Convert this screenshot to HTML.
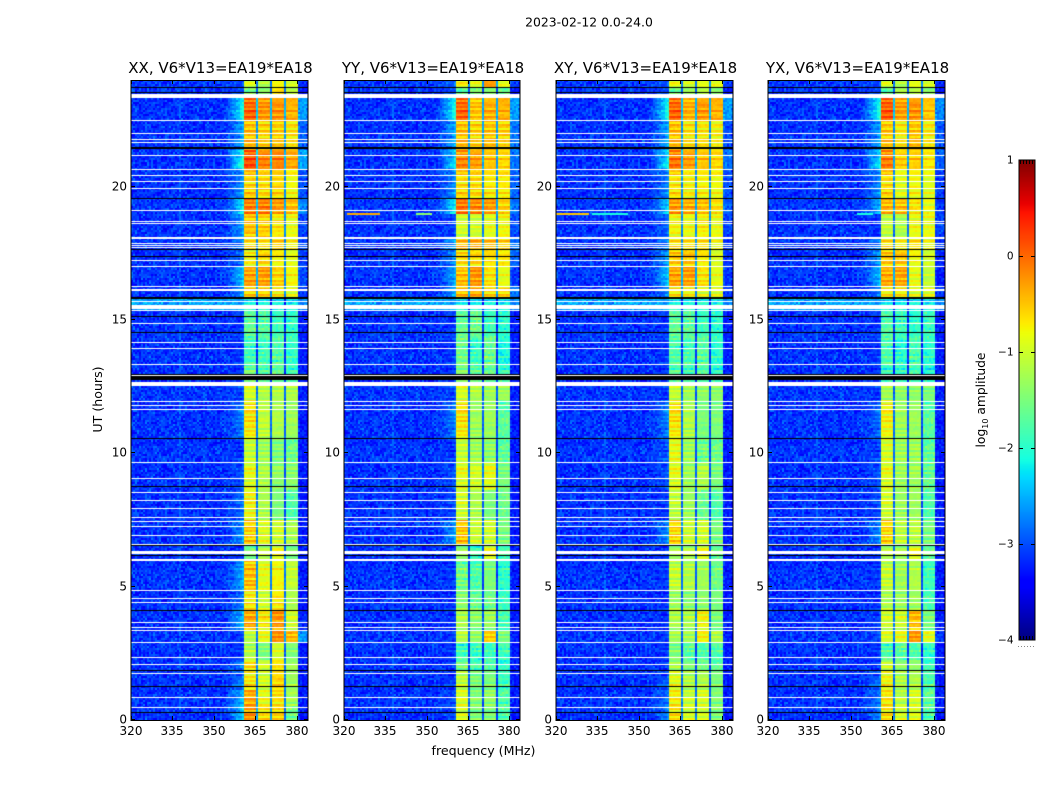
<!DOCTYPE html>
<html lang="en">
<head>
<meta charset="utf-8">
<title>2023-02-12 spectrogram</title>
<style>
html,body{margin:0;padding:0;background:#fff;}
#figure{position:relative;width:1050px;height:800px;overflow:hidden;background:#fff;font-family:"DejaVu Sans","Liberation Sans",sans-serif;}
canvas{position:absolute;display:block;}
svg{position:absolute;left:0;top:0;}
text{font-family:"DejaVu Sans","Liberation Sans",sans-serif;fill:#000;}
</style>
</head>
<body>
<div id="figure">
<canvas id="heat-xx"></canvas>
<canvas id="heat-yy"></canvas>
<canvas id="heat-xy"></canvas>
<canvas id="heat-yx"></canvas>
<canvas id="colorbar"></canvas>
<svg id="overlay" width="1050" height="800">
<text x="589" y="26.5" font-size="12.4" text-anchor="middle">2023-02-12 0.0-24.0</text>
<text x="483.5" y="755" font-size="12.6" text-anchor="middle">frequency (MHz)</text>
<text transform="translate(102,399.5) rotate(-90)" font-size="12.6" text-anchor="middle">UT (hours)</text>
<text transform="translate(985,400) rotate(-90)" font-size="12.3" text-anchor="middle">log<tspan font-size="8" dy="3">10</tspan><tspan dy="-3"> amplitude</tspan></text>
</svg>
</div>
<script>
// ---- chart data ----
const panelTitles = ["XX, V6*V13=EA19*EA18", "YY, V6*V13=EA19*EA18", "XY, V6*V13=EA19*EA18", "YX, V6*V13=EA19*EA18"];
const freqTickLabels = [320, 335, 350, 365, 380];
const hourTickLabels = [0, 5, 10, 15, 20];
const colorbarTickLabels = [1, 0, -1, -2, -3, -4];

// time blocks (UT hours) and log10 amplitude of the four spectral windows in each block
const segmentEdgesHours = [0,0.49,1.12,1.87,2.25,2.92,3.37,4.12,4.87,6.0,6.52,7.5,8.62,9.67,10.57,12.0,12.52,13.31,14.43,15.37,15.82,16.24,17.02,17.62,18.11,18.94,19.57,20.62,21.41,22.5,23.36,23.7,24];
const ampXX = [[-.3,-.65,-.6,-1.6],[-.4,-.9,-.7,-1.3],[-.7,-1,-.6,-1.3],[-.7,-1,-.7,-1.3],[-1.2,-1.5,-1,-1.5],[-1.2,-.9,-.25,-.45],[-.35,-.7,-.25,-1],[-.7,-1,-.7,-1.2],[-.5,-.9,-.8,-1.1],[-1.6,-1.2,-.9,-1.5],[-.55,-.9,-1,-1.2],[-.8,-1.2,-1.5,-1.8],[-.9,-1.2,-1.4,-1.4],[-1.1,-1.3,-1.5,-1.6],[-.7,-1.1,-1.2,-1.3],[-1,-1.2,-1.2,-1.2],[-1.6,-1.8,-1.7,-1.9],[-1.9,-1.85,-1.75,-1.95],[-1.7,-1.75,-1.9,-1.95],[-2.2,-2.2,-2.3,-2.3],[-.6,-.6,-.7,-.9],[-.35,-.3,-.6,-.8],[-.75,-.6,-.75,-.9],[-.7,-.7,-.6,-.8],[-.5,-.55,-.7,-.85],[-.15,-.15,-.3,-.5],[-.55,-.6,-.6,-.8],[.1,-.15,-.15,-.35],[-.5,-.6,-.55,-.7],[0,-.25,-.25,-.4],[-1.6,-1.5,-.7,-1.2],[-1,-1.2,-.8,-1]];
const ampYY = [[-1,-1.5,-1.5,-1.8],[-1,-1.5,-1.4,-1.8],[-1.1,-1.5,-1.5,-1.9],[-1.6,-1.8,-1.8,-2],[-1.9,-1.9,-1.9,-1.9],[-1.2,-1.4,-.6,-1.5],[-1.2,-1.4,-1.3,-1.8],[-1.4,-1.6,-1.6,-1.9],[-1.6,-1.8,-1.5,-2],[-1.4,-1.9,-.9,-1.8],[-.5,-1,-1,-1.5],[-1,-1.2,-1.5,-1.6],[-.9,-1,-.9,-1.5],[-1.1,-1.3,-1.4,-1.7],[-.7,-1.3,-1.3,-1.7],[-1,-1.2,-1.3,-1.3],[-1.5,-1.7,-1.7,-1.9],[-1.6,-1.9,-1.6,-2.1],[-1.7,-1.6,-1.9,-2],[-2.3,-2.3,-2.3,-2.3],[-.5,-.4,-.6,-.6],[-.5,-.25,-.7,-.9],[-.6,-.6,-.65,-.7],[-.5,-.4,-.5,-.6],[-1,-1,-.9,-.8],[-.1,-.2,-.3,-.6],[-.6,-.6,-.7,-.7],[-.2,-.3,-.5,-.6],[-.5,-.6,-.5,-.6],[0,-.5,-.4,-.4],[-1.8,-1.6,-1.5,-1.7],[-.8,-.9,-.3,-.9]];
const ampXY = [[-.7,-1,-1,-1.5],[-.8,-1.1,-1,-1.5],[-.9,-1.2,-1.2,-1.5],[-1.3,-1.5,-1.6,-1.7],[-1.5,-1.7,-1.8,-1.8],[-1.3,-1.3,-.8,-1.2],[-1.2,-1.2,-.8,-1.5],[-1.3,-1.4,-1.4,-1.5],[-1.1,-1.2,-1.3,-1.6],[-1.3,-1.2,-.9,-1.6],[-.6,-1,-1,-1.5],[-1.1,-1.3,-1.6,-1.8],[-.9,-1.3,-1.2,-1.5],[-.9,-1.3,-1.6,-1.6],[-.7,-1.2,-1.5,-1.5],[-1.1,-1.3,-1.4,-1.4],[-1.8,-1.9,-1.8,-2],[-1.8,-1.8,-1.7,-2],[-1.7,-1.7,-1.9,-2],[-2.2,-2.2,-2.2,-2.2],[-.7,-.8,-.9,-.9],[-.35,-.3,-.7,-.9],[-.5,-.5,-.7,-.95],[-.7,-.7,-.7,-.9],[-.8,-.85,-.75,-.85],[-.3,-.4,-.5,-.7],[-.65,-.75,-.75,-.8],[-.1,-.3,-.5,-.6],[-.5,-.7,-.7,-.8],[0,-.4,-.3,-.4],[-1.7,-1.4,-1.2,-1.5],[-.9,-1,-.9,-.9]];
const ampYX = [[-.7,-1,-.95,-1.8],[-.75,-1.2,-1,-1.7],[-.8,-1.2,-1.2,-1.8],[-1.1,-1.4,-1.4,-1.9],[-1.8,-1.7,-1.8,-2],[-1,-.9,-.3,-.9],[-1,-1,-.45,-1.5],[-1.2,-1.3,-1.3,-1.8],[-1.1,-1.3,-1.2,-1.9],[-1.2,-1.3,-.9,-1.6],[-.6,-1.1,-1.1,-1.5],[-1,-1.3,-1.3,-1.8],[-.9,-1.3,-1.3,-1.6],[-1,-1.3,-1.3,-1.7],[-.8,-1.3,-1.3,-1.7],[-1.3,-1.4,-1.4,-1.5],[-2,-2,-1.9,-2.1],[-1.8,-2,-1.8,-2],[-1.8,-1.9,-2,-1.9],[-2.3,-2.3,-2.3,-2.3],[-.75,-.75,-.9,-.9],[-.4,-.35,-.9,-1.1],[-.5,-.5,-.8,-1],[-.7,-.8,-.7,-.9],[-1.1,-1.2,-.85,-.85],[-.45,-.5,-.7,-.9],[-.6,-.9,-.8,-.9],[-.15,-.55,-.55,-.7],[-.55,-.75,-.5,-.75],[.05,-.3,-.25,-.5],[-1.8,-1.3,-1.2,-1.5],[-1,-1.2,-.9,-1]];
const backgroundLevels = [-3.15,-3.15,-3.15,-3.15,-3.15,-3.15,-3.15,-3.15,-3.15,-3.15,-3.15,-3.15,-3.15,-3.15,-3.15,-3.15,-3.15,-3.15,-3.15,-2.6,-3.15,-3.15,-3.15,-3.15,-3.15,-3.15,-3.15,-3.15,-3.15,-3.15,-3.15,-3.15];

// narrow interference tracks: panel index, UT hour, start MHz, end MHz, log10 amplitude
const rfiTracks = [[1,19.0,321,333,-.35],[1,19.0,346,352,-1.4],[2,19.0,320,332,-.5],[2,19.0,333,346,-2.1],[3,19.0,352,358,-2.1]];

// flagged integrations: single rows (UT hours) and wider blocks [from, to]
const whiteRows = [22.481,21.994,21.769,21.656,21.169,20.644,20.419,20.194,19.931,19.106,18.694,18.619,17.869,17.794,17.719,17.231,17.006,16.256,15.694,15.356,14.869,14.156,13.931,13.331,12.919,11.944,11.794,11.644,9.656,9.056,8.531,8.231,7.931,7.594,7.444,7.256,6.919,6.581,4.856,4.556,4.406,3.656,3.469,3.356,2.906,2.344,2.081,1.744,0.844,0.469];
const whiteBlocks = [[23.325,23.475],[18.0375,18.1125],[16.0875,16.1625],[15.4125,15.5625],[12.525,12.675],[6.225,6.3375],[5.9625,6.0375]];
const blackRows = [23.719,23.531,19.556,17.644,17.381,15.131,14.531,10.556,8.756,6.544,6.169,4.106,1.856,1.256,0.281];
const blackBlocks = [[21.4125,21.4875],[15.77,15.8625],[12.9375,12.975],[12.75,12.9]];

// fine texture: row striping and channel speckle (log10 offsets)
const rowStripes = [.14,-.1,.2,.02,-.18,.1,-.06,.22,-.14,.04,.16,-.2,.08,-.04,.18,-.12,.0,.24,-.16,.06,-.08,.12,-.22,.1,.02,-.12,.2,-.04,.14,-.18,.06,.16,-.1,-.02,.22,-.14,.08,-.2,.12,.0,-.06];
const grainA = [.21,-.33,.08,.37,-.12,-.27,.3,.02,-.4,.16,.26,-.18,-.05,.35,-.3,.11,-.22,.42,-.09,-.36,.19,.05,-.14,.28,-.25,.33,-.02,-.38,.13,.24,-.16,.06,-.31,.39,-.07,.17,-.21];
const grainB = [-.12,.17,-.28,.05,.24,-.09,.31,-.2,.1,-.33,.02,.27,-.15,.13,-.04,.36,-.26,.07,.2,-.17,-.31,.15,.03,.29,-.11,-.23,.18,-.06,.34,-.19,.09];

// ---- layout ----
const PANEL_IDS = ["heat-xx", "heat-yy", "heat-xy", "heat-yx"];
const PANEL_AMPS = [ampXX, ampYY, ampXY, ampYX];
const PANEL_LEFT = [131, 344, 556, 768];
const PANEL_WIDTH = [177, 176, 177, 177];
const PLOT_TOP = 80, PLOT_BOTTOM = 720;
const F_MIN = 320, F_MAX = 384, H_MAX = 24;
const CHANNELS = 88, ROWS = 320;
const BAND_START = [56, 63, 70, 77], BAND_END = [61, 68, 75, 82];

function xScale(f, left, width) { return left + (f - F_MIN) / (F_MAX - F_MIN) * width; }
function yScale(h) { return PLOT_BOTTOM - h / H_MAX * (PLOT_BOTTOM - PLOT_TOP); }

function lerpStops(t, s) {
  for (let i = 1; i < s.length; i++) {
    if (t <= s[i][0]) return s[i-1][1] + (s[i][1] - s[i-1][1]) * (t - s[i-1][0]) / (s[i][0] - s[i-1][0]);
  }
  return s[s.length-1][1];
}
const R_STOPS = [[0,0],[.35,0],[.66,1],[.89,1],[1,.5]];
const G_STOPS = [[0,0],[.125,0],[.375,1],[.64,1],[.91,0],[1,0]];
const B_STOPS = [[0,.5],[.11,1],[.34,1],[.65,0],[1,0]];
function jet(v) {
  const t = Math.max(0, Math.min(1, (v + 4) / 5));
  return "rgb(" + Math.round(255*lerpStops(t,R_STOPS)) + "," + Math.round(255*lerpStops(t,G_STOPS)) + "," + Math.round(255*lerpStops(t,B_STOPS)) + ")";
}
function segmentAt(h) {
  for (let i = 0; i < segmentEdgesHours.length - 1; i++) if (h < segmentEdgesHours[i+1]) return i;
  return segmentEdgesHours.length - 2;
}
function cellValue(amps, ch, row, h) {
  const seg = segmentAt(h);
  const vals = amps[seg], bg = backgroundLevels[seg];
  const gA = grainA[(ch * 13 + row * row * 3) % grainA.length];
  const gB = grainB[(ch * ch * 5 + row * 7 + ch * row) % grainB.length];
  const speck = gA + gB;
  for (let b = 0; b < 4; b++) {
    if (ch >= BAND_START[b] && ch <= BAND_END[b]) {
      const stripe = rowStripes[row % rowStripes.length] * .6 + rowStripes[(row + b * 7) % rowStripes.length] * .7;
      const coolBoost = vals[b] < -1.55 ? .4 : .14;
      return vals[b] + stripe + speck * coolBoost;
    }
  }
  for (let b = 0; b < 3; b++) {
    if (ch > BAND_END[b] && ch < BAND_START[b+1]) {
      const avg = (vals[b] + vals[b+1]) / 2;
      return -2.8 + (avg + 1) * 0.45 + speck * 0.2;
    }
  }
  if (ch >= 46 && ch < BAND_START[0]) {
    const frac = (ch - 46) / (BAND_START[0] - 46);
    const peak = vals[0] - 2.05;
    const level = bg + Math.max(0, peak - bg) * frac;
    return level + speck * 0.55 * (1 - frac * 0.6) + rowStripes[row % rowStripes.length] * frac;
  }
  if (ch > BAND_END[3]) {
    const edge = Math.max(bg - .1, vals[3] - 2.2);
    return edge - (ch - 83) * .03 + speck * 0.45;
  }
  return bg + speck * 0.55;
}

// ---- draw heatmaps ----
PANEL_IDS.forEach(function (id, p) {
  const cv = document.getElementById(id);
  const left = PANEL_LEFT[p], width = PANEL_WIDTH[p];
  const height = PLOT_BOTTOM - PLOT_TOP;
  cv.width = width; cv.height = height;
  cv.style.left = left + "px";
  cv.style.top = PLOT_TOP + "px";
  const ctx = cv.getContext("2d");
  const amps = PANEL_AMPS[p];
  const rowH = height / ROWS, chW = width / CHANNELS;
  for (let r = 0; r < ROWS; r++) {
    const h = (r + .5) / ROWS * H_MAX;
    const y0 = height - (r + 1) * rowH;
    for (let c = 0; c < CHANNELS; c++) {
      const x0 = Math.round(c * chW), x1 = Math.round((c + 1) * chW);
      ctx.fillStyle = jet(cellValue(amps, c, r, h));
      ctx.fillRect(x0, y0, x1 - x0, rowH);
    }
  }
  rfiTracks.forEach(function (t) {
    if (t[0] !== p) return;
    const x0 = Math.round(xScale(t[2], 0, width)), x1 = Math.round(xScale(t[3], 0, width));
    const yy = Math.floor(yScale(t[1])) - PLOT_TOP;
    ctx.fillStyle = jet(t[4]);
    ctx.fillRect(x0, yy, x1 - x0, 2);
  });
  function band(color, lo, hi) {
    const y0 = Math.round(yScale(hi)) - PLOT_TOP, y1 = Math.round(yScale(lo)) - PLOT_TOP;
    ctx.fillStyle = color;
    ctx.fillRect(0, y0, width, Math.max(1, y1 - y0));
  }
  function line(color, hh) {
    ctx.fillStyle = color;
    ctx.fillRect(0, Math.floor(yScale(hh)) - PLOT_TOP, width, 1);
  }
  blackBlocks.forEach(function (b) { band("#000", b[0], b[1]); });
  blackRows.forEach(function (hh) { line("#000", hh); });
  whiteBlocks.forEach(function (b) { band("#fff", b[0], b[1]); });
  whiteRows.forEach(function (hh) { line("#fff", hh); });
});

// ---- colorbar ----
(function () {
  const cv = document.getElementById("colorbar");
  cv.width = 16; cv.height = 480;
  cv.style.left = "1019px";
  cv.style.top = "160px";
  const ctx = cv.getContext("2d");
  for (let y = 0; y < 480; y++) {
    ctx.fillStyle = jet(1 - (y + .5) / 96);
    ctx.fillRect(0, y, 16, 1);
  }
})();

// ---- axes overlay ----
const NS = "http://www.w3.org/2000/svg";
const svg = document.getElementById("overlay");
function tickLine(x1, y1, x2, y2) {
  const el = document.createElementNS(NS, "line");
  el.setAttribute("x1", x1);
  el.setAttribute("y1", y1);
  el.setAttribute("x2", x2);
  el.setAttribute("y2", y2);
  el.setAttribute("stroke", "#000");
  el.setAttribute("stroke-width", "1");
  
  
  svg.appendChild(el);
  return el;
}
function label(x, y, str, size, anchor) {
  const el = document.createElementNS(NS, "text");
  el.setAttribute("x", x);
  el.setAttribute("y", y);
  el.setAttribute("font-size", size);
  el.setAttribute("text-anchor", anchor);
  el.textContent = str;
  svg.appendChild(el);
  return el;
}
PANEL_LEFT.forEach(function (left, p) {
  const width = PANEL_WIDTH[p];
  const frame = document.createElementNS(NS, "rect");
  frame.setAttribute("x", left);
  frame.setAttribute("y", PLOT_TOP + .5);
  frame.setAttribute("width", width);
  frame.setAttribute("height", PLOT_BOTTOM - PLOT_TOP);
  frame.setAttribute("fill", "none");
  frame.setAttribute("stroke", "#000");
  
  
  svg.appendChild(frame);
  const title = label(left + width / 2 + 1, 73, panelTitles[p], 15, "middle");
  
  
  freqTickLabels.forEach(function (f) {
    const x = Math.round(xScale(f, left, width)) + .5;
    tickLine(x, PLOT_BOTTOM, x, PLOT_BOTTOM - 4);
    tickLine(x, PLOT_TOP, x, PLOT_TOP + 4);
    const t = label(x - .5, 735, String(f), 12, "middle");
    
    
  });
  hourTickLabels.forEach(function (h) {
    const y = Math.round(yScale(h)) - .5;
    tickLine(left, y, left + 4, y);
    tickLine(left + width, y, left + width - 4, y);
    const t = label(left - 4, y + 4, String(h), 12, "end");
    
    
  });
});

// colorbar frame, ticks and labels
const cbFrame = document.createElementNS(NS, "rect");
cbFrame.setAttribute("x", 1019);
cbFrame.setAttribute("y", 160);
cbFrame.setAttribute("width", 16);
cbFrame.setAttribute("height", 480);
cbFrame.setAttribute("fill", "none");
cbFrame.setAttribute("stroke", "#000");


svg.appendChild(cbFrame);
colorbarTickLabels.forEach(function (v) {
  const y = 160 + (1 - v) * 96;
  if (v < 1 && v > -4) {
    tickLine(1019, y + .5, 1023, y + .5);
    tickLine(1035, y + .5, 1031, y + .5);
  }
  const t = label(1013.5, y + 3.5, String(v).replace("-", "\u2212"), 10.5, "end");
  
  
});
for (let i = 0; i < 6; i++) {
  const x = 1020 + Math.round(i * 3);
  if (i < 5) {
    tickLine(x + .5, 160, x + .5, 164);
    tickLine(x + .5, 640, x + .5, 636);
  }
  const dot = document.createElementNS(NS, "rect");
  dot.setAttribute("x", 1018 + i * 3);
  dot.setAttribute("y", 646);
  dot.setAttribute("width", 1);
  dot.setAttribute("height", 1);
  dot.setAttribute("fill", "#888");
  
  
  svg.appendChild(dot);
}
</script>
</body>
</html>
